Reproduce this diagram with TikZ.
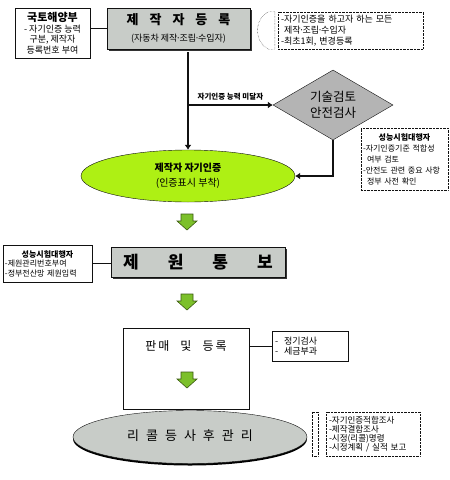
\documentclass[tikz,border=0pt]{standalone}
\usepackage{fontspec}
\setmainfont{Noto Sans CJK KR}
\usetikzlibrary{arrows.meta,positioning,calc,shapes.geometric,shadows}
\definecolor{Line}{HTML}{111111}
\definecolor{Plate}{HTML}{C8CCC8}
\definecolor{Check}{HTML}{B4B4B4}
\definecolor{Lime}{HTML}{AEF014}
\definecolor{Leaf}{HTML}{7CC02A}
\definecolor{LeafLine}{HTML}{3C5A12}
\newcommand\mdot{\kern-1.5pt·\kern-1.5pt}

\begin{document}
\begin{tikzpicture}[x=1pt,y=-1pt,
 box/.style={draw=Line,fill=white,inner sep=2pt},
 dbox/.style={draw=Line,densely dotted,fill=white,inner sep=3pt,align=left},
 plate/.style={draw=Line,fill=Plate,inner sep=0pt,align=center,drop shadow={shadow xshift=1.5pt,shadow yshift=-1.5pt,opacity=1,fill=black!80}},
 oval/.style={ellipse,draw=Line,inner sep=0pt,align=center},
 link/.style={draw=Line,line width=0.6pt},
 flow/.style={draw=Line,line width=2pt,-{Latex[length=5pt,width=7pt]}},
 garrow/.pic={\path[draw=LeafLine,fill=Leaf,line width=0.6pt] (-6,-8) -- (6,-8) -- (6,-1) -- (10,-1) -- (0,8) -- (-10,-1) -- (-6,-1) -- cycle;}
]
\useasboundingbox (0,0) rectangle (450,480);
\node[box,minimum width=75pt,minimum height=50pt,align=center,font=\fontsize{9}{10.5}\selectfont] (gov) at (52.5,33) {{\fontsize{11}{12}\selectfont\bfseries 국토해양부}\\- 자기인증 능력\\구분, 제작자\\등록번호 부여};
\node[plate,minimum width=143pt,minimum height=41pt,font=\fontsize{9}{17}\selectfont] (reg) at (178.5,28.5) {{\fontsize{13}{17}\selectfont\bfseries 제\hspace{11pt}작\hspace{11pt}자\hspace{11pt}등\hspace{11pt}록}\\(자동차 제작\mdot 조립\mdot 수입자)};
\node[dbox,minimum width=145pt,minimum height=35pt,text width=139pt,font=\fontsize{9}{11}\selectfont] (reqs) at (350.5,30.5) {-자기인증을 하고자 하는 모든\\\hspace*{3pt}제작\mdot 조립\mdot 수입자\\-최초1회, 변경등록};
\draw[densely dotted,draw=Line] ($(reqs.north west)+(-3,0)$) -- ($(reqs.north west)+(-9,0)$) .. controls ($(reqs.west)+(-24,-12)$) and ($(reqs.west)+(-24,12)$) .. ($(reqs.south west)+(-9,0)$) -- ($(reqs.south west)+(-3,0)$) -- cycle;
\node[diamond,aspect=1.7,draw=Line,fill=Check,minimum width=120pt,minimum height=70pt,inner sep=0pt,align=center,font=\fontsize{12.5}{16}\selectfont] (check) at (333,105) {기술검토\\안전검사};
\node[oval,fill=Lime,minimum width=214pt,minimum height=52pt,font=\fontsize{10}{15}\selectfont] (cert) at (188,176) {\textbf{제작자 자기인증}\\(인증표시 부착)};
\node[dbox,minimum width=87pt,minimum height=62pt,text width=83pt,inner sep=2pt,font=\fontsize{8}{11}\selectfont] (agent) at (404.5,159) {\makebox[83pt]{\bfseries 성능시험대행자}\\-자기인증기준 적합성\\\hspace*{4pt}여부 검토\\-안전도 관련 중요 사항\\\hspace*{4pt}정부 사전 확인};
\coordinate (split) at (cert.north |- check.west);
\draw[link] (reg.west -| gov.east) -- (reg.west);
\draw[flow] ($(reg.south -| cert.north)+(0,3)$) -- (cert.north);
\draw[flow] (split) -- (check.west);
\node[anchor=south,yshift=1pt,font=\fontsize{7.5}{9}\selectfont\bfseries] (lack) at ($(split)!0.5!(check.west)$) {자기인증 능력 미달자};
\draw[flow] (check.south) |- (cert.east);
\pic at (187,222) {garrow};
\node[box,minimum width=89pt,minimum height=37pt,text width=85pt,align=left,font=\fontsize{8}{9.5}\selectfont] (lab) at (47.5,263.5) {\makebox[85pt]{\bfseries 성능시험대행자}\\-제원관리번호부여\\-정부전산망 제원입력};
\node[plate,minimum width=174pt,minimum height=30pt,font=\fontsize{17}{20}\selectfont\bfseries] (spec) at (198,262) {제\hspace{29pt}원\hspace{29pt}통\hspace{29pt}보};
\draw[link] (lab.east) -- (lab.east -| spec.west);
\pic at (187,302) {garrow};
\node[box,minimum width=126pt,minimum height=81pt] (sale) at (186,368.5) {};
\node[below=9pt of sale.north,font=\fontsize{12}{14}\selectfont] (saletxt) {판\hspace{2pt}매\hspace{11pt}및\hspace{11pt}등\hspace{2pt}록};
\node[box,minimum width=76pt,minimum height=30pt,text width=70pt,align=left,font=\fontsize{9}{10}\selectfont] (duty) at (310,346) {-\hspace{6pt}정기검사\\-\hspace{6pt}세금부과};
\draw[link] (duty.west) -- (duty.west -| sale.east);
\pic at (187,380) {garrow};
\node[oval,fill=Plate,minimum width=234pt,minimum height=53pt,font=\fontsize{13}{15}\selectfont,drop shadow={shadow xshift=0pt,shadow yshift=-2pt,opacity=1,fill=black}] (recall) at (190,437) {\raisebox{3pt}{리\hspace{7pt}콜\hspace{7pt}등\hspace{7pt}사\hspace{7pt}후\hspace{7pt}관\hspace{7pt}리}};
\node[dbox,minimum width=94pt,minimum height=44pt,text width=88pt,font=\fontsize{8.5}{9}\selectfont] (after) at (373,434) {-자기인증적합조사\\-제작결함조사\\-시정(리콜)명령\\-시정계획 / 실적 보고};
\draw[densely dotted,draw=Line] ($(after.north west)+(-14,0)$) rectangle ($(after.south west)+(-8,0)$);
\end{tikzpicture}
\end{document}
